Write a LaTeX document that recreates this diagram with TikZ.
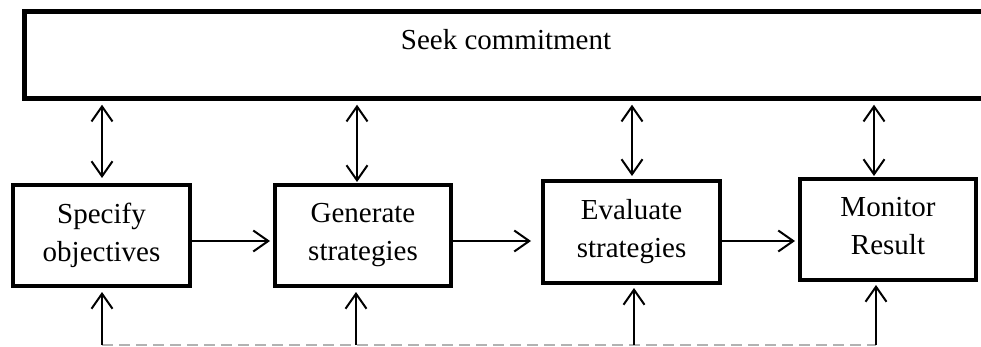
\documentclass[tikz,border=0pt]{standalone}
\usepackage{fontspec}
\setmainfont{Liberation Serif}
\usetikzlibrary{arrows.meta,calc}
\begin{document}
\begin{tikzpicture}[x=1pt,y=-1pt,
  stepbox/.style={draw, line width=4pt, minimum width=177pt, minimum height=101pt, inner sep=0pt, align=center, font=\fontsize{29}{38}\selectfont},
  conn/.style={line width=2pt, -{Straight Barb[length=15pt,width=21pt]}},
  dconn/.style={line width=2pt, {Straight Barb[length=15pt,width=21pt]}-{Straight Barb[length=15pt,width=21pt]}},
  feed/.style={draw=gray!60, line width=2pt, dash pattern=on 11pt off 6pt}]
\useasboundingbox (0,0) rectangle (981,347);
% top box
\node[draw, line width=5pt, minimum width=970pt, minimum height=86.5pt, inner sep=0pt] (top) at (509.5,55) {};
\node[font=\fontsize{29}{35}\selectfont, anchor=base, inner sep=0pt] (toptext) at (506,50) {Seek commitment};
% step boxes
\node[stepbox] (b1) at (101.5,235.5) {Specify\\objectives};
\node[stepbox, minimum width=176pt] (b2) at (363,235.5) {Generate\\strategies};
\node[stepbox, minimum height=102pt] (b3) at (631.5,232) {Evaluate\\strategies};
\node[stepbox, minimum width=176pt] (b4) at (888,229.5) {Monitor\\Result\vphantom{g}};
% x positions of vertical connectors
\coordinate (a1) at (102,0);
\coordinate (a2) at (357,0);
\coordinate (a3) at (632,0);
\coordinate (a4) at (874,0);
\coordinate (d1) at (102,345);
\coordinate (d2) at (356,345);
\coordinate (d3) at (634,345);
\coordinate (d4) at (876,345);
\coordinate (h) at (0,241);
% dashed feedback line
\draw[feed] (d1) -- (d4);
% double arrows to the top box
\draw[dconn, shorten <=4pt, shorten >=5pt] (a1 |- top.south) -- (a1 |- b1.north);
\draw[dconn, shorten <=4pt, shorten >=1pt] (a2 |- top.south) -- (a2 |- b2.north);
\draw[dconn, shorten <=4pt, shorten >=3pt] (a3 |- top.south) -- (a3 |- b3.north);
\draw[dconn, shorten <=4pt, shorten >=1pt] (a4 |- top.south) -- (a4 |- b4.north);
% forward arrows
\draw[conn, shorten >=3pt] (b1.east |- h) -- (b2.west |- h);
\draw[conn, shorten >=10pt] (b2.east |- h) -- (b3.west |- h);
\draw[conn, shorten >=3pt] (b3.east |- h) -- (b4.west |- h);
% feedback arrows from below
\draw[conn, shorten >=4pt] (d1) -- (d1 |- b1.south);
\draw[conn, shorten >=4pt] (d2) -- (d2 |- b2.south);
\draw[conn, shorten >=3pt] (d3) -- (d3 |- b3.south);
\draw[conn, shorten >=3pt] (d4) -- (d4 |- b4.south);
\end{tikzpicture}
\end{document}
